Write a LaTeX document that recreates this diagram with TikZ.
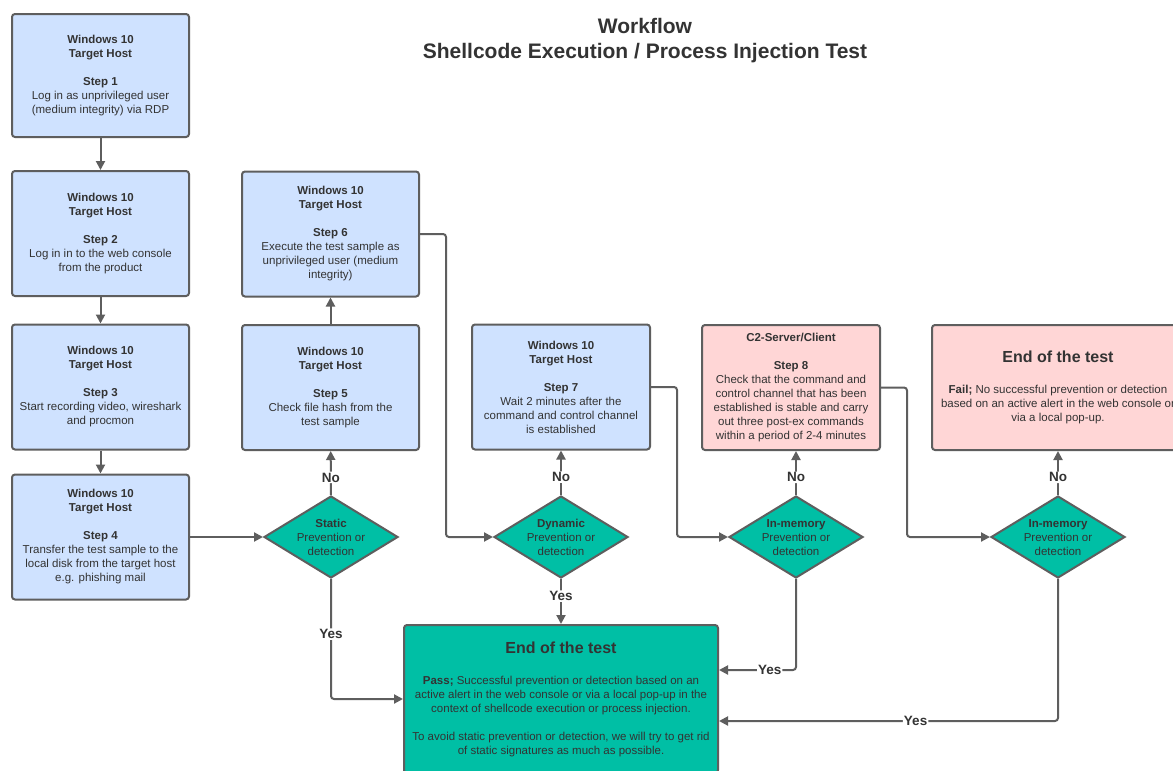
\documentclass[tikz,border=0pt]{standalone}
\usepackage{fontspec}
\setmainfont{Liberation Sans}
\usetikzlibrary{shapes.geometric,arrows.meta}
\definecolor{hostblue}{HTML}{CFE2FF}
\definecolor{c2pink}{HTML}{FFD6D6}
\definecolor{passgreen}{HTML}{00BFA5}
\definecolor{linegray}{HTML}{5E5E5E}
\definecolor{txtgray}{HTML}{333333}
\newcommand{\decisiontext}[1]{\raisebox{-5pt}[0pt][0pt]{\begin{tabular}{@{}c@{}}#1\end{tabular}}}
\newcommand{\headlinefont}{\bfseries\fontsize{16}{20}\selectfont}

\begin{document}
\begin{tikzpicture}[x=1pt,y=-1pt,
  every node/.style={text=txtgray,font=\fontsize{11.5}{14}\selectfont},
  hostbox/.style={draw=linegray,line width=2pt,rounded corners=3pt,fill=hostblue,
    minimum width=177pt,minimum height=125pt,align=center,inner sep=0pt},
  c2box/.style={hostbox,fill=c2pink},
  decision/.style={diamond,draw=linegray,line width=2pt,fill=passgreen,
    shape aspect=1.63,minimum width=134pt,minimum height=82pt,inner sep=0pt},
  flow/.style={draw=linegray,line width=2pt,rounded corners=3pt,
    -{Triangle[length=9pt,width=9pt]}},
  lab/.style={fill=white,inner sep=1pt,font=\bfseries\fontsize{13.5}{15}\selectfont}]
\path[use as bounding box,fill=white] (0,0) rectangle (1173,771);
\clip (0,0) rectangle (1173,771);

\node[font=\bfseries\fontsize{21}{25}\selectfont,align=center] (T) at (645,41)
  {Workflow\\Shellcode Execution / Process Injection Test};

\node[hostbox,minimum height=123pt] (S1) at (100.5,75.5) {\textbf{Windows 10}\\\textbf{Target Host}\\[14pt]
  \textbf{Step 1}\\Log in as unprivileged user\\(medium integrity) via RDP};
\node[hostbox] (S2) at (100.5,233.5) {\textbf{Windows 10}\\\textbf{Target Host}\\[14pt]
  \textbf{Step 2}\\Log in in to the web console\\from the product};
\node[hostbox] (S3) at (100.5,387) {\textbf{Windows 10}\\\textbf{Target Host}\\[14pt]
  \textbf{Step 3}\\Start recording video, wireshark\\and procmon};
\node[hostbox] (S4) at (100.5,537) {\textbf{Windows 10}\\\textbf{Target Host}\\[14pt]
  \textbf{Step 4}\\Transfer the test sample to the\\local disk from the target host\\e.g. phishing mail};
\node[hostbox] (S5) at (330.5,387.5) {\textbf{Windows 10}\\\textbf{Target Host}\\[14pt]
  \textbf{Step 5}\\Check file hash from the\\test sample};
\node[hostbox] (S6) at (330.5,234) {\textbf{Windows 10}\\\textbf{Target Host}\\[14pt]
  \textbf{Step 6}\\Execute the test sample as\\unprivileged user (medium\\integrity)};
\node[hostbox,minimum width=178pt] (S7) at (561,387) {\textbf{Windows 10}\\\textbf{Target Host}\\[14pt]
  \textbf{Step 7}\\Wait 2 minutes after the\\command and control channel\\is established};
\node[c2box,minimum width=178pt] (S8) at (791,387.5) {\textbf{C2-Server/Client}\\[14pt]
  \textbf{Step 8}\\Check that the command and\\control channel that has been\\established is stable and carry\\out three post-ex commands\\within a period of 2-4 minutes};
\node[c2box,minimum width=252pt] (F) at (1058,387.5) {{\headlinefont End of the test}\\[17pt]
  \textbf{Fail;} No successful prevention or detection\\based on an active alert in the web console or\\via a local pop-up.};
\node[hostbox,fill=passgreen,minimum width=314pt,minimum height=148pt] (P) at (561,699)
  {{\headlinefont End of the test}\\[17pt]
  \textbf{Pass;} Successful prevention or detection based on an\\active alert in the web console or via a local pop-up in the\\context of shellcode execution or process injection.\\[14pt]
  To avoid static prevention or detection, we will try to get rid\\of static signatures as much as possible.};

\node[decision] (D1) at (331,537) {\decisiontext{\textbf{Static}\\Prevention or\\detection}};
\node[decision] (D2) at (561,537) {\decisiontext{\textbf{Dynamic}\\Prevention or\\detection}};
\node[decision] (D3) at (796,537) {\decisiontext{\textbf{In-memory}\\Prevention or\\detection}};
\node[decision] (D4) at (1058,537) {\decisiontext{\textbf{In-memory}\\Prevention or\\detection}};

\draw[flow] (S1) -- (S2);
\draw[flow] (S2) -- (S3);
\draw[flow] (S3) -- (S4);
\draw[flow] (S4) -- (D1);
\draw[flow] (D1) -- node[lab,pos=0.4]{No} (S5);
\draw[flow] (S5) -- (S6);
\draw[flow] (S6.east) -- ++(26,0) |- (D2.west);
\draw[flow] (D2) -- node[lab,pos=0.4]{No} (S7);
\draw[flow] (D2) -- node[lab,pos=0.38]{Yes} (P);
\draw[flow] (D1.south) |- node[lab,pos=0.23]{Yes} (P.west);
\draw[flow] (S7.east) -- ++(26,0) |- (D3.west);
\draw[flow] (D3) -- node[lab,pos=0.4]{No} (D3 |- S8.south);
\draw[flow] (D3.south) |- node[lab,pos=0.67]{Yes} (P.east |- 0,670);
\draw[flow] (S8.east) -- ++(26,0) |- (D4.west);
\draw[flow] (D4) -- node[lab,pos=0.4]{No} (F);
\draw[flow] (D4.south) |- node[lab,pos=0.71]{Yes} (P.east |- 0,721);
\end{tikzpicture}
\end{document}
